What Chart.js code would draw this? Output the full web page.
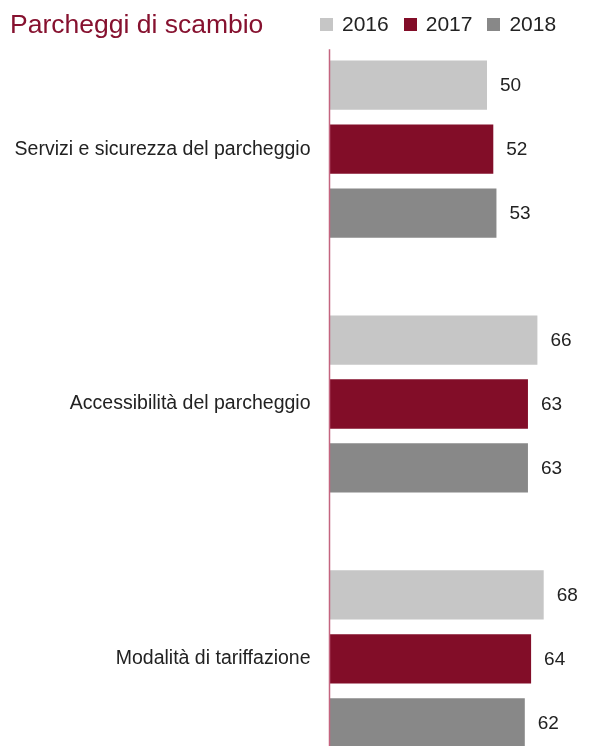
<!DOCTYPE html>
<html lang="it">
<head>
  <meta charset="UTF-8" />
  <title>Parcheggi di scambio</title>
  <script src="https://cdn.jsdelivr.net/npm/chart.js"></script>
  <style>
    body { margin: 0; background: #fff; overflow: hidden; font-family: 'Liberation Sans', Arial, sans-serif; }
    #wrap { position: relative; width: 590px; height: 746px; overflow: hidden; }
    #grafico { position: absolute; left: 0; top: -9.2px; }
    h1 {
      position: absolute; left: 10px; top: 9px; margin: 0;
      font-size: 26.5px; font-weight: normal; color: #86112f; line-height: 30px;
    }
    #legenda { position: absolute; left: 320px; top: 11px; display: flex; align-items: center; }
    #legenda span.box { width: 13px; height: 13px; display: inline-block; margin-right: 9px; }
    #legenda span.txt { font-size: 21px; color: #222; margin-right: 15px; line-height: 26px; }
  </style>
</head>
<body>
  <div id="wrap">
    <canvas id="grafico" width="590" height="826"></canvas>
    <h1>Parcheggi di scambio</h1>
    <div id="legenda"></div>
  </div>

  <script>
    const categorie = ["Servizi e sicurezza del parcheggio", "Accessibilità del parcheggio", "Modalità di tariffazione"];
    const anni = ["2016", "2017", "2018"];
    const valori2016 = [50, 66, 68];
    const valori2017 = [52, 63, 64];
    const valori2018 = [53, 63, 62];
    const colori = ["#c6c6c6", "#820d28", "#888888"];

    // legenda
    const leg = document.getElementById("legenda");
    anni.forEach((a, i) => {
      leg.innerHTML += `<span class="box" style="background:${colori[i]}"></span><span class="txt">${a}</span>`;
    });

    // asse verticale e etichette valori
    const etichette = {
      id: "etichette",
      afterDatasetsDraw(chart) {
        const ctx = chart.ctx;
        const x0 = chart.scales.x.getPixelForValue(0);
        ctx.save();
        ctx.strokeStyle = "#c4647f";
        ctx.lineWidth = 1.5;
        ctx.beginPath();
        ctx.moveTo(x0, chart.chartArea.top + 27.5);
        ctx.lineTo(x0, chart.chartArea.bottom);
        ctx.stroke();
        ctx.font = "19px 'Liberation Sans', Arial, sans-serif";
        ctx.fillStyle = "#222";
        ctx.textBaseline = "middle";
        chart.data.datasets.forEach((ds, i) => {
          chart.getDatasetMeta(i).data.forEach((bar, j) => {
            ctx.fillText(ds.data[j], bar.x + 13, bar.y + 1);
          });
        });
        ctx.restore();
      }
    };

    new Chart(document.getElementById("grafico"), {
      type: "bar",
      data: {
        labels: categorie,
        datasets: [
          { label: anni[0], data: valori2016, backgroundColor: colori[0] },
          { label: anni[1], data: valori2017, backgroundColor: colori[1] },
          { label: anni[2], data: valori2018, backgroundColor: colori[2] }
        ]
      },
      options: {
        indexAxis: "y",
        responsive: false,
        animation: false,
        categoryPercentage: 0.753,
        barPercentage: 0.77,
        layout: { padding: { top: 0, bottom: 0, right: 8.5, left: 0 } },
        plugins: { legend: { display: false }, tooltip: { enabled: false } },
        scales: {
          x: { display: false, min: 0, max: 80 },
          y: {
            grid: { display: false, drawTicks: false },
            border: { display: false },
            ticks: {
              padding: 19,
              color: "#222",
              font: { family: "'Liberation Sans', Arial, sans-serif", size: 19.5 }
            },
            afterFit(scale) { scale.width = 329.5; }
          }
        }
      },
      plugins: [etichette]
    });
  </script>
</body>
</html>
